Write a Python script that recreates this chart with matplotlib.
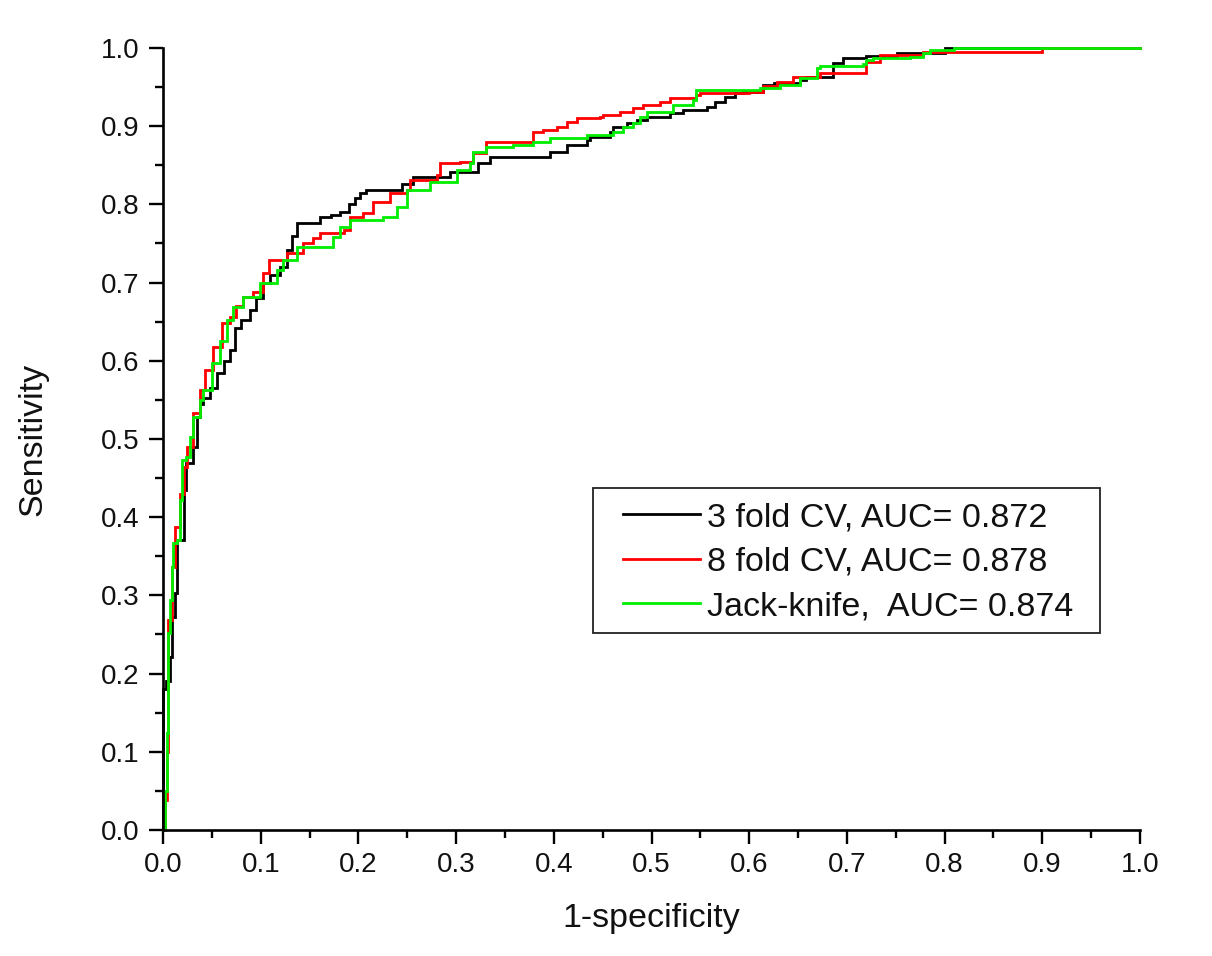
import matplotlib
matplotlib.use("Agg")
import matplotlib.pyplot as plt
from matplotlib.ticker import MultipleLocator, FormatStrFormatter
from matplotlib.patches import Rectangle

plt.rcParams['font.family'] = ['Liberation Sans', 'DejaVu Sans']

# ---- data ----
labels = ["3 fold CV, AUC= 0.872", "8 fold CV, AUC= 0.878", "Jack-knife,  AUC= 0.874"]
colors = ["#000000", "#ff0000", "#00ee00"]

fold3_x = [0, 0.0, 0.003, 0.007, 0.009, 0.012, 0.014, 0.021, 0.024, 0.031, 0.035, 0.038,
           0.041, 0.048, 0.055, 0.062, 0.069, 0.074, 0.080, 0.089, 0.095, 0.102, 0.110,
           0.120, 0.127, 0.132, 0.137, 0.154, 0.161, 0.172, 0.181, 0.190, 0.197, 0.202,
           0.208, 0.239, 0.245, 0.256, 0.284, 0.294, 0.320, 0.322, 0.335, 0.386, 0.396,
           0.403, 0.413, 0.434, 0.437, 0.458, 0.461, 0.475, 0.485, 0.495, 0.519, 0.532,
           0.557, 0.565, 0.575, 0.585, 0.594, 0.614, 0.625, 0.652, 0.658, 0.683, 0.686,
           0.696, 0.716, 0.720, 0.751, 0.800, 1.0]
fold3_y = [0, 0.180, 0.190, 0.221, 0.272, 0.303, 0.371, 0.435, 0.469, 0.490, 0.528, 0.545,
           0.552, 0.565, 0.584, 0.600, 0.614, 0.642, 0.652, 0.665, 0.680, 0.699, 0.710,
           0.720, 0.742, 0.760, 0.776, 0.776, 0.784, 0.787, 0.790, 0.800, 0.808, 0.814,
           0.818, 0.818, 0.826, 0.835, 0.835, 0.841, 0.841, 0.853, 0.861, 0.861, 0.867,
           0.867, 0.876, 0.882, 0.886, 0.893, 0.899, 0.904, 0.908, 0.912, 0.917, 0.921,
           0.925, 0.931, 0.937, 0.942, 0.944, 0.953, 0.955, 0.959, 0.963, 0.963, 0.981,
           0.987, 0.987, 0.990, 0.993, 1.0, 1.0]

fold8_x = [0, 0.002, 0.004, 0.005, 0.005, 0.009, 0.012, 0.017, 0.021, 0.025, 0.031, 0.038,
           0.043, 0.051, 0.060, 0.069, 0.075, 0.082, 0.092, 0.102, 0.108, 0.120, 0.127,
           0.137, 0.143, 0.154, 0.161, 0.175, 0.185, 0.191, 0.205, 0.215, 0.232, 0.250,
           0.253, 0.280, 0.284, 0.304, 0.317, 0.331, 0.376, 0.379, 0.389, 0.403, 0.414,
           0.424, 0.447, 0.450, 0.468, 0.481, 0.491, 0.509, 0.519, 0.546, 0.550, 0.600,
           0.614, 0.628, 0.645, 0.672, 0.716, 0.720, 0.734, 0.778, 0.895, 0.900, 1.0]
fold8_y = [0, 0.038, 0.100, 0.140, 0.268, 0.336, 0.387, 0.430, 0.464, 0.490, 0.533, 0.563,
           0.588, 0.618, 0.648, 0.656, 0.670, 0.682, 0.688, 0.712, 0.729, 0.729, 0.738,
           0.738, 0.750, 0.757, 0.763, 0.763, 0.767, 0.784, 0.789, 0.803, 0.814, 0.818,
           0.831, 0.838, 0.853, 0.854, 0.866, 0.880, 0.880, 0.893, 0.895, 0.899, 0.905,
           0.910, 0.912, 0.914, 0.918, 0.923, 0.927, 0.931, 0.936, 0.940, 0.942, 0.944,
           0.951, 0.957, 0.963, 0.968, 0.968, 0.982, 0.991, 0.995, 0.995, 1.0, 1.0]

jack_x = [0, 0.002, 0.004, 0.005, 0.007, 0.009, 0.010, 0.014, 0.017, 0.019, 0.024, 0.028,
          0.031, 0.038, 0.041, 0.050, 0.058, 0.066, 0.072, 0.082, 0.090, 0.099, 0.117,
          0.123, 0.137, 0.167, 0.174, 0.181, 0.191, 0.225, 0.239, 0.250, 0.273, 0.301,
          0.314, 0.317, 0.331, 0.358, 0.379, 0.396, 0.434, 0.461, 0.471, 0.481, 0.488,
          0.495, 0.519, 0.522, 0.542, 0.546, 0.611, 0.632, 0.652, 0.669, 0.672, 0.716,
          0.720, 0.727, 0.765, 0.778, 0.785, 0.810, 1.0]
jack_y = [0, 0.050, 0.124, 0.252, 0.294, 0.336, 0.367, 0.371, 0.422, 0.473, 0.477, 0.503,
          0.528, 0.550, 0.563, 0.597, 0.625, 0.652, 0.669, 0.682, 0.682, 0.699, 0.716,
          0.729, 0.746, 0.746, 0.758, 0.771, 0.780, 0.784, 0.797, 0.818, 0.829, 0.844,
          0.853, 0.867, 0.873, 0.876, 0.880, 0.885, 0.889, 0.893, 0.899, 0.904, 0.912,
          0.918, 0.918, 0.927, 0.933, 0.946, 0.949, 0.953, 0.962, 0.974, 0.977, 0.980,
          0.985, 0.987, 0.989, 0.993, 0.997, 1.0, 1.0]

xticks = [0.0, 0.1, 0.2, 0.3, 0.4, 0.5, 0.6, 0.7, 0.8, 0.9, 1.0]
yticks = [0.0, 0.1, 0.2, 0.3, 0.4, 0.5, 0.6, 0.7, 0.8, 0.9, 1.0]

# ---- figure ----
fig = plt.figure(figsize=(12.12, 9.56), dpi=100)
ax = fig.add_axes([163/1212, 1 - 830/956, (1140-163)/1212, (830-48)/956])

series = [(fold3_x, fold3_y), (fold8_x, fold8_y), (jack_x, jack_y)]
for (xs, ys), c, lab in zip(series, colors, labels):
    ax.plot(xs, ys, color=c, lw=2.0, drawstyle='steps-post', label=lab, clip_on=False,
            solid_joinstyle='miter')

ax.set_xlim(0, 1)
ax.set_ylim(0, 1)
ax.set_xticks(xticks)
ax.set_yticks(yticks)
ax.xaxis.set_major_formatter(FormatStrFormatter('%.1f'))
ax.yaxis.set_major_formatter(FormatStrFormatter('%.1f'))
ax.xaxis.set_minor_locator(MultipleLocator(0.05))
ax.yaxis.set_minor_locator(MultipleLocator(0.05))

for s in ['top', 'right']:
    ax.spines[s].set_visible(False)
for s in ['left', 'bottom']:
    ax.spines[s].set_linewidth(1.9)

ax.tick_params(which='major', direction='out', length=10, width=1.7, labelsize=20,
               pad=6, colors='black', labelcolor='#111111')
ax.tick_params(which='minor', direction='out', length=5.5, width=1.7)
ax.tick_params(axis='y', which='major', pad=7)

ax.set_xlabel('1-specificity', fontsize=24.5, labelpad=18, color='#111111')
ax.set_ylabel('Sensitivity', fontsize=24.5, labelpad=38, color='#111111')

# legend frame (opaque box with square corners)
frame = Rectangle((0.440, 0.252), 0.519, 0.185, transform=ax.transAxes,
                  facecolor='white', edgecolor='#222222', lw=1.3, zorder=4.9, clip_on=False)
ax.add_patch(frame)
leg = ax.legend(loc='center left', bbox_to_anchor=(0.4708, 0.3425), borderaxespad=0,
                fontsize=24.5, frameon=False, handlelength=2.25, handletextpad=0.22,
                labelspacing=0.40, borderpad=0.0)
leg.set_zorder(5)
for line in leg.get_lines():
    line.set_linewidth(2.0)
for t in leg.get_texts():
    t.set_color('#111111')

fig.savefig('out.png', dpi=100, facecolor='white')
